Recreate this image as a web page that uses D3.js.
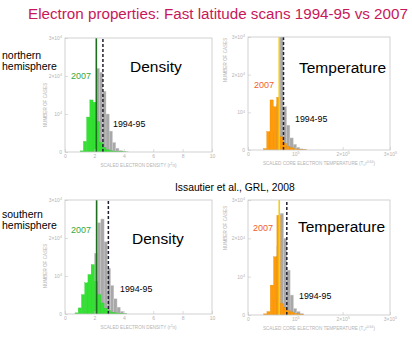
<!DOCTYPE html>
<html><head><meta charset="utf-8">
<script src="https://cdn.jsdelivr.net/npm/d3@7"></script>
<style>
body{margin:0;background:#fff}
svg{display:block}
text{font-family:"Liberation Sans",Arial,Helvetica,sans-serif}
</style>
</head><body>
<svg id="chart" width="412" height="345"></svg>
<script>
// ---- histogram data: number of cases per bin ----
const densityBinWidth = 0.22;
const densityNorthBinStart = 0.81;
const densityNorth2007 = [0, 300, 2800, 9200, 13700, 13100, 8000, 2500, 1200, 600, 350, 200, 120, 80, 50, 30];
const densityNorth1994 = [0, 0, 0, 0, 3000, 9000, 22000, 21000, 16000, 10000, 5500, 2500, 1000, 400, 150, 0];
const densitySouthBinStart = 0.68;
const densitySouth2007 = [300, 1600, 5100, 8200, 10400, 13000, 8600, 5100, 2900, 1500, 900, 500, 300, 150, 80, 40];
const densitySouth1994 = [0, 0, 0, 800, 3000, 8000, 16000, 24000, 25000, 19000, 12000, 7500, 4000, 1800, 700, 200];

const temperatureBinWidth = 7000;
const temperatureNorthBinStart = 32500;
const temperatureNorth2007 = [400, 4900, 13300, 11500, 14000, 3500, 1800, 1000, 600, 350, 200, 100, 50];
const temperatureNorth1994 = [0, 0, 1000, 5000, 12000, 34000, 11500, 6600, 3200, 1500, 700, 300, 100];
const temperatureSouthBinStart = 33000;
const temperatureSouth2007 = [300, 900, 7800, 15200, 26000, 3000, 2000, 1200, 800, 500, 300, 200];
const temperatureSouth1994 = [0, 0, 0, 4000, 18000, 26500, 20000, 11700, 5200, 1700, 900, 400];

// reference lines: 2007 (solid) and 1994-95 (dashed)
const densityNorthLines = [2.13, 2.58];
const densitySouthLines = [2.15, 2.95];
const temperatureNorthLines = [66000, 75000];
const temperatureSouthLines = [66000, 82000];

// ---- axis ticks ----
const countTicks = [0, 1e4, 2e4, 3e4];
const countTickLabels = ["0", "10^4", "2×10^4", "3×10^4"];
const densityTicks = [0, 2, 4, 6, 8, 10];
const densityTickLabels = ["0", "2", "4", "6", "8", "10"];
const temperatureTicks = [0, 1e5, 2e5, 3e5];
const temperatureTickLabels = ["0", "10^5", "2×10^5", "3×10^5"];

// ---- text ----
const titleText = "Electron properties: Fast latitude scans 1994-95 vs 2007";
const citationText = "Issautier et al., GRL, 2008";
const hemisphereLabels = [["northern", "hemisphere"], ["southern", "hemisphere"]];
const yTitle = "NUMBER OF CASES";

const svg = d3.select("#chart");

// "a^b" -> a with superscript b
function withSup(sel, label) {
  sel.text(null);
  const parts = label.split("^");
  sel.append("tspan").text(parts[0]);
  if (parts.length > 1) sel.append("tspan").attr("dy", "-0.5em").attr("font-size", "0.75em").text(parts[1]);
}

const panels = [
  { id: "dn", x0: 65, x1: 212, yb: 152, yt: 38, domain: [0, 10], ticks: densityTicks, tickLabels: densityTickLabels,
    binStart: densityNorthBinStart, binWidth: densityBinWidth, recent: densityNorth2007, early: densityNorth1994,
    lines: densityNorthLines, fill: "#33e133", lineColor: "#1d6e1d", labelColor: "#3aa83a",
    name: "Density", nameX: 130, nameY: 72, recentX: 71, recentY: 79, earlyX: 113, earlyY: 127,
    xTitle: ["SCALED ELECTRON DENSITY (r", "2", "n)"], yTitleX: 47, yTitleY: 105 },
  { id: "tn", x0: 248, x1: 390, yb: 150, yt: 37, domain: [0, 3e5], ticks: temperatureTicks, tickLabels: temperatureTickLabels,
    binStart: temperatureNorthBinStart, binWidth: temperatureBinWidth, recent: temperatureNorth2007, early: temperatureNorth1994,
    lines: temperatureNorthLines, fill: "#ff9a0a", lineColor: "#f3cf10", labelColor: "#f0602c",
    name: "Temperature", nameX: 299, nameY: 73, recentX: 254, recentY: 88, earlyX: 295, earlyY: 122,
    xTitle: ["SCALED CORE ELECTRON TEMPERATURE (T", "c", "r", "0.64", ")"], yTitleX: 227, yTitleY: 60 },
  { id: "ds", x0: 65, x1: 212, yb: 314, yt: 200, domain: [0, 10], ticks: densityTicks, tickLabels: densityTickLabels,
    binStart: densitySouthBinStart, binWidth: densityBinWidth, recent: densitySouth2007, early: densitySouth1994,
    lines: densitySouthLines, fill: "#33e133", lineColor: "#1d6e1d", labelColor: "#3aa83a",
    name: "Density", nameX: 132, nameY: 244, recentX: 71, recentY: 233, earlyX: 120, earlyY: 292,
    xTitle: ["SCALED ELECTRON DENSITY (r", "2", "n)"], yTitleX: 47, yTitleY: 266 },
  { id: "ts", x0: 248, x1: 390, yb: 315, yt: 200, domain: [0, 3e5], ticks: temperatureTicks, tickLabels: temperatureTickLabels,
    binStart: temperatureSouthBinStart, binWidth: temperatureBinWidth, recent: temperatureSouth2007, early: temperatureSouth1994,
    lines: temperatureSouthLines, fill: "#ff9a0a", lineColor: "#f3cf10", labelColor: "#f0602c",
    name: "Temperature", nameX: 298, nameY: 232, recentX: 253, recentY: 231, earlyX: 299, earlyY: 299,
    xTitle: ["SCALED CORE ELECTRON TEMPERATURE (T", "c", "r", "0.64", ")"], yTitleX: 227, yTitleY: 228 }
];

const defs = svg.append("defs");
const axisGrey = "#c6c6c6";
const textGrey = "#b4b4b4";

panels.forEach(p => {
  const x = d3.scaleLinear().domain(p.domain).range([p.x0, p.x1]);
  const y = d3.scaleLinear().domain([0, 3e4]).range([p.yb, p.yt]);

  defs.append("clipPath").attr("id", "clip-" + p.id)
    .append("rect").attr("x", p.x0).attr("y", p.yt).attr("width", p.x1 - p.x0).attr("height", p.yb - p.yt);

  const g = svg.append("g");
  const plot = g.append("g").attr("clip-path", `url(#clip-${p.id})`);

  const bins = arr => arr.map((c, i) => ({ a: p.binStart + i * p.binWidth, b: p.binStart + (i + 1) * p.binWidth, c }))
    .filter(d => d.c > 0);

  // 1994-95 histogram (grey) behind the 2007 one
  plot.selectAll("rect.early").data(bins(p.early)).join("rect").attr("class", "early")
    .attr("x", d => x(d.a)).attr("width", d => x(d.b) - x(d.a))
    .attr("y", d => y(d.c)).attr("height", d => y(0) - y(d.c))
    .attr("fill", "#a8a8a8").attr("stroke", "#cfcfcf").attr("stroke-width", 0.4);

  plot.selectAll("rect.recent").data(bins(p.recent)).join("rect").attr("class", "recent")
    .attr("x", d => x(d.a)).attr("width", d => x(d.b) - x(d.a))
    .attr("y", d => y(d.c)).attr("height", d => y(0) - y(d.c))
    .attr("fill", p.fill).attr("stroke", d3.color(p.fill).darker(0.3)).attr("stroke-width", 0.3);

  // solid 2007 line, dashed 1994-95 line
  plot.append("line").attr("x1", x(p.lines[0])).attr("x2", x(p.lines[0]))
    .attr("y1", p.yb).attr("y2", p.yt).attr("stroke", p.lineColor).attr("stroke-width", 1.6);
  plot.append("line").attr("x1", x(p.lines[1])).attr("x2", x(p.lines[1]))
    .attr("y1", p.yb).attr("y2", p.yt).attr("stroke", "#202030").attr("stroke-width", 1.5)
    .attr("stroke-dasharray", "3,2");

  // frame
  g.append("rect").attr("x", p.x0).attr("y", p.yt).attr("width", p.x1 - p.x0).attr("height", p.yb - p.yt)
    .attr("fill", "none").attr("stroke", axisGrey).attr("stroke-width", 0.8);

  // axes
  const xa = g.append("g").attr("transform", `translate(0,${p.yb})`)
    .call(d3.axisBottom(x).tickValues(p.ticks).tickSizeInner(-3).tickSizeOuter(0).tickPadding(2));
  xa.selectAll("text").each(function (d, i) { withSup(d3.select(this), p.tickLabels[i]); });
  const ya = g.append("g").attr("transform", `translate(${p.x0},0)`)
    .call(d3.axisLeft(y).tickValues(countTicks).tickSizeInner(-3).tickSizeOuter(0).tickPadding(3));
  ya.selectAll("text").each(function (d, i) { withSup(d3.select(this), countTickLabels[i]); });
  [xa, ya].forEach(a => {
    a.select(".domain").remove();
    a.selectAll("line").attr("stroke", axisGrey).attr("stroke-width", 0.6);
    a.selectAll("text").attr("fill", textGrey).attr("font-size", 5).attr("font-family", null);
  });

  // axis titles
  const xt = g.append("text").attr("x", (p.x0 + p.x1) / 2).attr("y", p.yb + 15)
    .attr("text-anchor", "middle").attr("font-size", 4.6).attr("fill", textGrey);
  p.xTitle.forEach((s, i) => {
    const t = xt.append("tspan").text(s);
    if (i % 2 === 1) {
      const sup = p.id[0] === "d" || i === 3;
      t.attr("font-size", 3.5).attr("dy", sup ? -1.8 : 1.2);
    } else if (i > 0) {
      const prevSup = p.id[0] === "d" || i === 4;
      t.attr("dy", prevSup ? 1.8 : -1.2);
    }
  });
  g.append("text").attr("transform", `translate(${p.yTitleX},${p.yTitleY}) rotate(-90)`)
    .attr("text-anchor", "middle").attr("font-size", 4.6).attr("fill", textGrey).text(yTitle);

  // labels
  g.append("text").attr("x", p.nameX).attr("y", p.nameY).attr("font-size", 15.5).attr("fill", "#000").text(p.name);
  g.append("text").attr("x", p.recentX).attr("y", p.recentY).attr("font-size", 9).attr("fill", p.labelColor).text("2007");
  g.append("text").attr("x", p.earlyX).attr("y", p.earlyY).attr("font-size", 8.8).attr("fill", "#000").text("1994-95");
});

// title, hemisphere labels, citation
svg.append("text").attr("x", 28).attr("y", 19).attr("font-size", 15.2).attr("fill", "#c8175a").text(titleText);
[[59, 70], [218, 229]].forEach((ys, k) => {
  hemisphereLabels[k].forEach((s, j) => {
    svg.append("text").attr("x", 2).attr("y", ys[j]).attr("font-size", 10.5).attr("fill", "#000").text(s);
  });
});
svg.append("text").attr("x", 175).attr("y", 191).attr("font-size", 10.3).attr("fill", "#000").text(citationText);
</script>
</body></html>
